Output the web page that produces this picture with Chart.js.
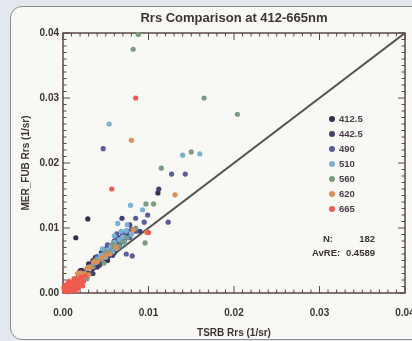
<!DOCTYPE html>
<html>
<head>
<meta charset="utf-8">
<script src="https://cdn.jsdelivr.net/npm/chart.js@4.4.1/dist/chart.umd.min.js"></script>
<style>
  html, body { margin: 0; padding: 0; background: #e2e8ee; overflow: hidden; }
  #wrap { position: relative; width: 412px; height: 341px; }
  #card { position: absolute; left: 10px; top: 6px; width: 420px; height: 332px;
          background: #f8f8f5; border: 1px solid #8e8e8e; border-radius: 12px; }
  canvas { position: absolute; left: 0; top: 0; }
</style>
</head>
<body>
<div id="wrap">
  <div id="card"></div>
  <canvas id="rrsChart" width="412" height="341"></canvas>
</div>
<script>
// --- data (TSRB Rrs, MER_FUB Rrs) per band ---
const bandLabels = ['412.5', '442.5', '490', '510', '560', '620', '665'];

const rrs412 = [[0.0029,0.0114],[0.0015,0.0085],[0.0111,0.0154],[0.0020,0.0034],[0.0026,0.0029],
  [0.0030,0.0045],[0.0035,0.0038],[0.0038,0.0055],[0.0043,0.0047],[0.0046,0.0060],[0.0051,0.0056],
  [0.0054,0.0070],[0.0058,0.0064],[0.0062,0.0078],[0.0035,0.0050],[0.0040,0.0040],[0.0028,0.0026],
  [0.0045,0.0062],[0.0052,0.0050],[0.0060,0.0080],[0.0022,0.0035],[0.0018,0.0024],[0.0033,0.0044],
  [0.0048,0.0048],[0.0065,0.0085],[0.0070,0.0090]];
const rrs442 = [[0.0069,0.0115],[0.0112,0.0160],[0.0090,0.0095],[0.0078,0.0105],[0.0024,0.0033],
  [0.0029,0.0031],[0.0033,0.0043],[0.0037,0.0040],[0.0041,0.0053],[0.0045,0.0049],[0.0048,0.0061],
  [0.0052,0.0055],[0.0056,0.0068],[0.0060,0.0062],[0.0064,0.0076],[0.0068,0.0078],[0.0072,0.0082],
  [0.0039,0.0054],[0.0047,0.0065],[0.0055,0.0072],[0.0030,0.0041],[0.0043,0.0043],[0.0058,0.0058],
  [0.0066,0.0074],[0.0076,0.0088],[0.0035,0.0030]];
const rrs490 = [[0.0047,0.0222],[0.0143,0.0183],[0.0127,0.0183],[0.0099,0.0120],[0.0085,0.0115],
  [0.0095,0.0109],[0.0123,0.0109],[0.0063,0.0091],[0.0069,0.0085],[0.0074,0.0060],[0.0081,0.0057],
  [0.0040,0.0056],[0.0045,0.0052],[0.0050,0.0068],[0.0055,0.0064],[0.0060,0.0080],[0.0065,0.0075],
  [0.0070,0.0092],[0.0075,0.0095],[0.0080,0.0098],[0.0036,0.0046],[0.0052,0.0074],[0.0058,0.0070],
  [0.0062,0.0085],[0.0078,0.0085],[0.0085,0.0095]];
const rrs510 = [[0.0054,0.0260],[0.0140,0.0212],[0.0160,0.0214],[0.0079,0.0135],[0.0093,0.0128],
  [0.0064,0.0107],[0.0075,0.0105],[0.0074,0.0096],[0.0060,0.0088],[0.0048,0.0060],[0.0052,0.0066],
  [0.0056,0.0072],[0.0060,0.0078],[0.0066,0.0082],[0.0070,0.0086],[0.0044,0.0058],[0.0040,0.0052],
  [0.0036,0.0046],[0.0032,0.0040],[0.0068,0.0095],[0.0072,0.0078],[0.0080,0.0090],[0.0046,0.0068],
  [0.0058,0.0064],[0.0050,0.0055],[0.0064,0.0070]];
const rrs560 = [[0.0088,0.0398],[0.0082,0.0375],[0.0165,0.0300],[0.0204,0.0275],[0.0150,0.0217],
  [0.0115,0.0192],[0.0097,0.0137],[0.0106,0.0137],[0.0096,0.0077],[0.0030,0.0040],[0.0035,0.0040],
  [0.0040,0.0049],[0.0045,0.0052],[0.0050,0.0063],[0.0055,0.0062],[0.0060,0.0071],[0.0065,0.0072],
  [0.0070,0.0078],[0.0025,0.0030],[0.0020,0.0026],[0.0038,0.0050],[0.0048,0.0046],[0.0058,0.0075],
  [0.0075,0.0085],[0.0085,0.0100],[0.0028,0.0022]];
const rrs620 = [[0.0080,0.0235],[0.0131,0.0151],[0.0082,0.0097],[0.0098,0.0093],[0.0005,0.0008],
  [0.0008,0.0012],[0.0010,0.0010],[0.0012,0.0018],[0.0015,0.0020],[0.0018,0.0022],[0.0020,0.0031],
  [0.0022,0.0020],[0.0025,0.0030],[0.0028,0.0038],[0.0030,0.0028],[0.0006,0.0016],[0.0014,0.0012],
  [0.0032,0.0040],[0.0036,0.0048],[0.0040,0.0048],[0.0003,0.0004],[0.0017,0.0030],[0.0045,0.0054],
  [0.0050,0.0058],[0.0055,0.0060],[0.0062,0.0070]];
const rrs665 = [[0.0085,0.0300],[0.0057,0.0160],[0.0100,0.0093],[0.0002,0.0003],[0.0004,0.0006],
  [0.0005,0.0002],[0.0006,0.0010],[0.0008,0.0006],[0.0009,0.0014],[0.0010,0.0004],[0.0011,0.0009],
  [0.0012,0.0016],[0.0013,0.0022],[0.0014,0.0007],[0.0016,0.0012],[0.0017,0.0019],[0.0018,0.0008],
  [0.0020,0.0015],[0.0021,0.0024],[0.0003,0.0012],[0.0007,0.0018],[0.0024,0.0018],[0.0026,0.0026],
  [0.0015,0.0003],[0.0001,0.0008],[0.0023,0.0011]];

const bandData = [rrs412, rrs442, rrs490, rrs510, rrs560, rrs620, rrs665];
const oneToOne = [0, 0.04];
const axisMin = 0;
const axisMax = 0.04;
const nCount = 182;
const avre = 0.4589;

// --- styles ---
const bandColors = ['#392d4a', '#404270', '#5a5c9c', '#7ab0d2', '#7c9c80', '#dc9058', '#f05a4e'];
const axisColor = '#5a4848';
const textColor = '#3e3434';
const fontFamily = '"Liberation Sans", Arial, sans-serif';

document.addEventListener('DOMContentLoaded', () => {
  initializeChart();
});

// frame + inward ticks on all four sides (IDL look)
const frameTicks = {
  id: 'frameTicks',
  beforeDatasetsDraw(chart) {
    const { ctx, chartArea: a, scales: { x, y } } = chart;
    ctx.save();
    ctx.strokeStyle = axisColor;
    ctx.lineWidth = 1.5;
    ctx.strokeRect(a.left, a.top, a.right - a.left, a.bottom - a.top);
    ctx.lineWidth = 1;
    ctx.beginPath();
    for (let i = 0; i <= 40; i++) {
      const v = i / 1000;
      const len = i % 10 === 0 ? 7 : 3.5;
      const px = x.getPixelForValue(v);
      const py = y.getPixelForValue(v);
      ctx.moveTo(px, a.bottom); ctx.lineTo(px, a.bottom - len);
      ctx.moveTo(px, a.top); ctx.lineTo(px, a.top + len);
      ctx.moveTo(a.left, py); ctx.lineTo(a.left + len, py);
      ctx.moveTo(a.right, py); ctx.lineTo(a.right - len, py);
    }
    ctx.stroke();
    ctx.restore();
  }
};

// legend and stats inside the plot
const insideLegend = {
  id: 'insideLegend',
  afterDraw(chart) {
    const { ctx } = chart;
    ctx.save();
    ctx.font = 'bold 9.5px ' + fontFamily;
    ctx.textBaseline = 'middle';
    let row = 0;
    chart.data.datasets.forEach(ds => {
      if (!ds.showInLegend) return;
      const yy = 119 + row * 15;
      ctx.fillStyle = ds.backgroundColor;
      ctx.beginPath();
      ctx.arc(332, yy, 3, 0, Math.PI * 2);
      ctx.fill();
      ctx.fillStyle = '#4a3c4a';
      ctx.textAlign = 'left';
      ctx.fillText(ds.label, 339, yy);
      row++;
    });
    ctx.fillStyle = textColor;
    ctx.textAlign = 'left';
    ctx.fillText('N:', 323, 239);
    ctx.fillText('AvRE:', 312, 253);
    ctx.textAlign = 'right';
    ctx.fillText(String(nCount), 375, 239);
    ctx.fillText(avre.toFixed(4), 375, 253);
    ctx.restore();
  }
};

function initializeChart() {
  const datasets = bandLabels.map((label, i) => ({
    type: 'scatter',
    label: label,
    showInLegend: true,
    data: bandData[i].map(p => ({ x: p[0], y: p[1] })),
    backgroundColor: bandColors[i],
    borderWidth: 0,
    pointRadius: 2.6,
    clip: false,
    order: bandLabels.length - i
  }));

  datasets.push({
    type: 'line',
    label: '1:1',
    data: oneToOne.map(v => ({ x: v, y: v })),
    borderColor: '#545454',
    borderWidth: 2,
    pointRadius: 0,
    fill: false,
    order: 20
  });

  const ctx = document.getElementById('rrsChart').getContext('2d');
  new Chart(ctx, {
    type: 'scatter',
    data: { datasets },
    plugins: [frameTicks, insideLegend],
    options: {
      responsive: false,
      animation: false,
      layout: { padding: { left: 0, right: 7, top: 0, bottom: 0 } },
      plugins: {
        legend: { display: false },
        tooltip: { enabled: false },
        title: {
          display: true,
          text: 'Rrs Comparison at 412-665nm',
          fullSize: false,
          color: textColor,
          font: { family: fontFamily, size: 13, weight: 'bold', lineHeight: 1.2 },
          padding: { top: 10.5, bottom: 6.9 }
        }
      },
      scales: {
        x: {
          type: 'linear',
          min: axisMin,
          max: axisMax,
          grid: { display: false, drawTicks: false },
          border: { display: false },
          ticks: {
            stepSize: 0.01,
            padding: 14,
            color: textColor,
            font: { family: fontFamily, size: 10, weight: 'bold' },
            callback: v => v.toFixed(2)
          },
          title: {
            display: true,
            text: 'TSRB Rrs (1/sr)',
            color: textColor,
            font: { family: fontFamily, size: 10, weight: 'bold' },
            padding: { top: 0, bottom: 2 }
          },
          afterFit: s => { s.height = 48; s.paddingLeft = 0; s.paddingRight = 0; }
        },
        y: {
          type: 'linear',
          min: axisMin,
          max: axisMax,
          grid: { display: false, drawTicks: false },
          border: { display: false },
          ticks: {
            stepSize: 0.01,
            padding: 4,
            color: textColor,
            font: { family: fontFamily, size: 10, weight: 'bold' },
            callback: v => v.toFixed(2)
          },
          title: {
            display: true,
            text: 'MER_FUB Rrs (1/sr)',
            color: textColor,
            font: { family: fontFamily, size: 10, weight: 'bold' },
            padding: { top: 20, bottom: 0 }
          },
          afterFit: s => { s.width = 63; s.paddingTop = 0; s.paddingBottom = 0; }
        }
      }
    }
  });
}
</script>
</body>
</html>
